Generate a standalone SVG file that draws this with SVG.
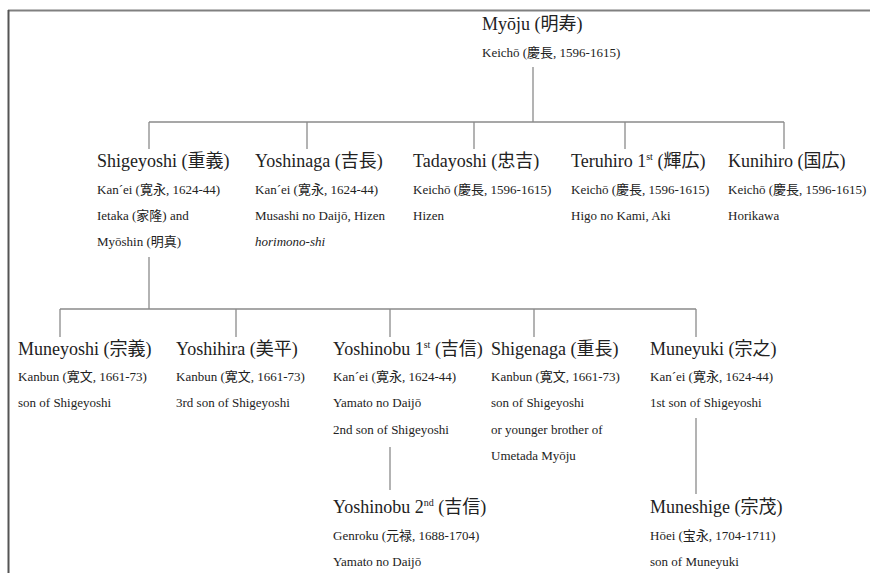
<svg xmlns="http://www.w3.org/2000/svg" width="870" height="573" viewBox="0 0 870 573">
<style>
text{font-family:"Liberation Serif","Noto Sans CJK JP",serif;fill:#222}
.n{font-size:18px}
.s{font-size:13px}
.sup{font-size:10px}
.i{font-style:italic}
.c line{stroke:#8a8a8a;stroke-width:1.3}
</style>
<rect width="870" height="573" fill="#fff"/>
<line x1="8" y1="10.5" x2="870" y2="10.5" stroke="#808080" stroke-width="2"/>
<line x1="8.5" y1="10" x2="8.5" y2="573" stroke="#555" stroke-width="2"/>
<g class="c" id="connectors">
<line x1="533" y1="67" x2="533" y2="122"/>
<line x1="149" y1="122" x2="784" y2="122"/>
<line x1="149" y1="122" x2="149" y2="149"/>
<line x1="307" y1="122" x2="307" y2="149"/>
<line x1="474" y1="122" x2="474" y2="149"/>
<line x1="625" y1="122" x2="625" y2="149"/>
<line x1="784" y1="122" x2="784" y2="149"/>
<line x1="149" y1="257" x2="149" y2="309"/>
<line x1="60" y1="309" x2="696" y2="309"/>
<line x1="60" y1="309" x2="60" y2="337"/>
<line x1="236" y1="309" x2="236" y2="337"/>
<line x1="390" y1="309" x2="390" y2="337"/>
<line x1="534" y1="309" x2="534" y2="337"/>
<line x1="696" y1="309" x2="696" y2="337"/>
<line x1="390" y1="447" x2="390" y2="490"/>
<line x1="696" y1="418" x2="696" y2="494"/>
</g>
<g id="myoju">
<text class="n" x="482" y="30">Myōju (明寿)</text>
<text class="s" x="482" y="57">Keichō (慶長, 1596-1615)</text>
</g>
<g id="shigeyoshi">
<text class="n" x="97" y="167">Shigeyoshi (重義)</text>
<text class="s" x="97" y="194">Kan´ei (寛永, 1624-44)</text>
<text class="s" x="97" y="220">Ietaka (家隆) and</text>
<text class="s" x="97" y="246">Myōshin (明真)</text>
</g>
<g id="yoshinaga">
<text class="n" x="255" y="167">Yoshinaga (吉長)</text>
<text class="s" x="255" y="194">Kan´ei (寛永, 1624-44)</text>
<text class="s" x="255" y="220">Musashi no Daijō, Hizen</text>
<text class="s i" x="255" y="246">horimono-shi</text>
</g>
<g id="tadayoshi">
<text class="n" x="413" y="167">Tadayoshi (忠吉)</text>
<text class="s" x="413" y="194">Keichō (慶長, 1596-1615)</text>
<text class="s" x="413" y="220">Hizen</text>
</g>
<g id="teruhiro">
<text class="n" x="571" y="167">Teruhiro 1<tspan class="sup" dy="-7">st</tspan><tspan dy="7"> (輝広)</tspan></text>
<text class="s" x="571" y="194">Keichō (慶長, 1596-1615)</text>
<text class="s" x="571" y="220">Higo no Kami, Aki</text>
</g>
<g id="kunihiro">
<text class="n" x="728" y="167">Kunihiro (国広)</text>
<text class="s" x="728" y="194">Keichō (慶長, 1596-1615)</text>
<text class="s" x="728" y="220">Horikawa</text>
</g>
<g id="muneyoshi">
<text class="n" x="18" y="355">Muneyoshi (宗義)</text>
<text class="s" x="18" y="381">Kanbun (寛文, 1661-73)</text>
<text class="s" x="18" y="407">son of Shigeyoshi</text>
</g>
<g id="yoshihira">
<text class="n" x="176" y="355">Yoshihira (美平)</text>
<text class="s" x="176" y="381">Kanbun (寛文, 1661-73)</text>
<text class="s" x="176" y="407">3rd son of Shigeyoshi</text>
</g>
<g id="yoshinobu1">
<text class="n" x="333" y="355">Yoshinobu 1<tspan class="sup" dy="-7">st</tspan><tspan dy="7"> (吉信)</tspan></text>
<text class="s" x="333" y="381">Kan´ei (寛永, 1624-44)</text>
<text class="s" x="333" y="407">Yamato no Daijō</text>
<text class="s" x="333" y="434">2nd son of Shigeyoshi</text>
</g>
<g id="shigenaga">
<text class="n" x="491" y="355">Shigenaga (重長)</text>
<text class="s" x="491" y="381">Kanbun (寛文, 1661-73)</text>
<text class="s" x="491" y="407">son of Shigeyoshi</text>
<text class="s" x="491" y="434">or younger brother of</text>
<text class="s" x="491" y="460">Umetada Myōju</text>
</g>
<g id="muneyuki">
<text class="n" x="650" y="355">Muneyuki (宗之)</text>
<text class="s" x="650" y="381">Kan´ei (寛永, 1624-44)</text>
<text class="s" x="650" y="407">1st son of Shigeyoshi</text>
</g>
<g id="yoshinobu2">
<text class="n" x="333" y="513">Yoshinobu 2<tspan class="sup" dy="-7">nd</tspan><tspan dy="7"> (吉信)</tspan></text>
<text class="s" x="333" y="540">Genroku (元禄, 1688-1704)</text>
<text class="s" x="333" y="566">Yamato no Daijō</text>
</g>
<g id="muneshige">
<text class="n" x="650" y="513">Muneshige (宗茂)</text>
<text class="s" x="650" y="540">Hōei (宝永, 1704-1711)</text>
<text class="s" x="650" y="566">son of Muneyuki</text>
</g>
</svg>
